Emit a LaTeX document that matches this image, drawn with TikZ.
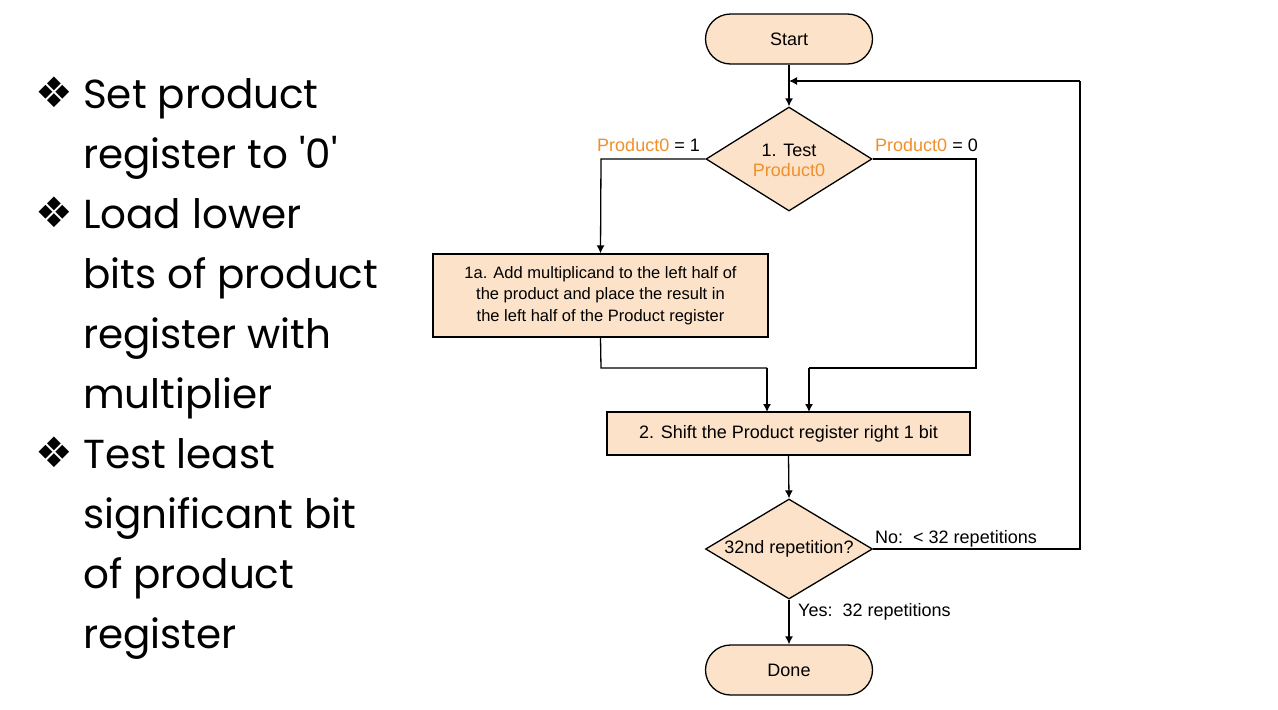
\documentclass[tikz,border=0pt]{standalone}
\usepackage{fontspec}
\setmainfont{Liberation Sans}
\newfontfamily\bulletfont{DejaVu Sans}
\newfontfamily\leftfont{Poppins}
\usetikzlibrary{shapes.geometric,arrows.meta}
\definecolor{peach}{HTML}{FCE2C8}
\definecolor{porange}{HTML}{F0902A}
\begin{document}
\begin{tikzpicture}[x=1pt,y=-1pt,
  every node/.style={font=\fontsize{18}{20}\selectfont},
  term/.style={draw,line width=1.3pt,fill=peach,rounded corners=25pt,minimum width=167pt,minimum height=50pt,inner sep=0pt},
  proc/.style={draw,line width=1.3pt,fill=peach,inner sep=0pt,align=center},
  dec/.style={draw,line width=1.3pt,fill=peach,diamond,aspect=1.6,inner sep=0pt,align=center},
  conn/.style={line width=1.3pt},
  arr/.style={line width=1.3pt,-{Latex[length=8pt,width=8pt]}},
  bul/.style={anchor=base west,font=\fontsize{40.5}{42}\selectfont\leftfont,inner sep=0pt},
  lbl/.style={inner sep=0pt}]
\useasboundingbox (0,0) rectangle (1278,710);
\fill[white] (0,0) rectangle (1278,710);
% left text
\foreach \y/\t/\b in {108/Set product/1,168/register to '0'/0,228/Load lower/1,288/bits of product/0,348/register with/0,408/multiplier/0,468/Test least/1,528/significant bit/0,588/of product/0,648/register/0}{
  \node[bul] (t\y) at (83,\y) {\t};
  \ifnum\b=1 \node[anchor=base west,inner sep=0pt,font=\fontsize{42}{44}\selectfont\bulletfont] (b\y) at (35,\y-1) {❖};\fi
}
% flowchart nodes
\node[term] (start) at (789,39) {Start};
\node[dec,minimum width=166pt,minimum height=104pt] (d1) at (789,159) {};
\node[lbl,align=center] (d1t) at (789,160) {1. Test\\\textcolor{porange}{Product0}};
\node[proc,minimum width=335pt,minimum height=83pt,font=\fontsize{16.5}{21.5}\selectfont] (b1) at (600.5,295.5) {1a. Add multiplicand to the left half of\\the product and place the result in\\the left half of the Product register};
\node[proc,minimum width=363pt,minimum height=43pt] (b2) at (788.5,433.5) {2. Shift the Product register right 1 bit};
\node[dec,minimum width=167pt,minimum height=100pt] (d2) at (789,549) {};
\node[lbl] (d2t) at (789,549) {32nd repetition?};
\node[term] (done) at (789,670) {Done};
% coordinates
\coordinate (loopin) at (789,81);
\coordinate (lc) at (601,159);
\coordinate (rc) at (976,159);
\coordinate (rb) at (976,368);
\coordinate (rb2) at (809,368);
\coordinate (lb) at (601,368);
\coordinate (lb2) at (767,368);
\coordinate (nr) at (1080,549);
\coordinate (nt) at (1080,81);
% connectors
\draw[arr] (start.south) -- (d1.north);
\draw[arr] (d1.west) -- (lc) -- (b1.north);
\draw[conn] (d1.east) -- (rc) -- (rb) -- (rb2);
\draw[arr] (rb2) -- (809,412);
\draw[conn] (b1.south) -- (lb) -- (lb2);
\draw[arr] (lb2) -- (767,412);
\draw[arr] (b2.south) -- (d2.north);
\draw[arr] (d2.south) -- (done.north);
\draw[conn] (d2.east) -- (nr) -- (nt);
\draw[arr] (nt) -- (loopin);
% labels
\node[lbl,anchor=base east] (l1) at (700,151) {\textcolor{porange}{Product0} = 1};
\node[lbl,anchor=base west] (l0) at (875,151) {\textcolor{porange}{Product0} = 0};
\node[lbl,anchor=base west] (lno) at (875,543) {No:\ \ < 32 repetitions};
\node[lbl,anchor=base west] (lyes) at (798,616) {Yes:\ \ 32 repetitions};
\end{tikzpicture}
\end{document}
